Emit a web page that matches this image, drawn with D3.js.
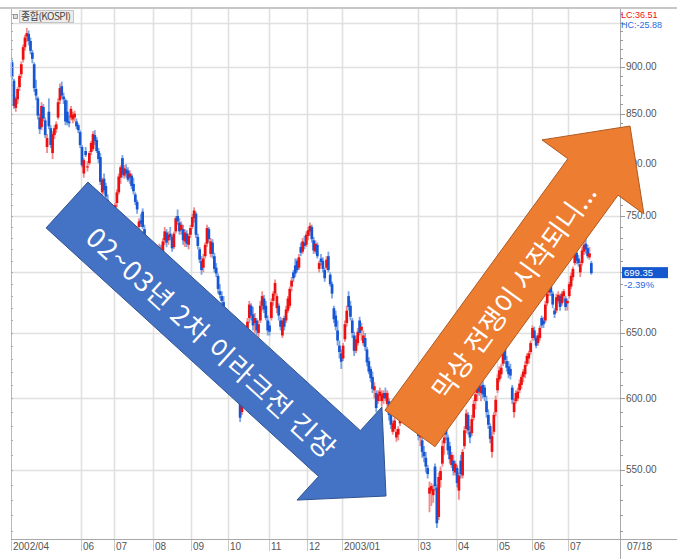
<!DOCTYPE html>
<html><head><meta charset="utf-8">
<script src="https://cdn.jsdelivr.net/npm/d3@7"></script>
<style>
body{margin:0;background:#fff;}
svg{display:block;font-family:"Liberation Sans",Arial,sans-serif;}
</style>
</head><body>
<svg id="c" width="677" height="559"></svg>
<script>
// ---- DATA (KOSPI daily, 2002/04/08 ~ 2003/07/18) ----
const monthLabels = ["2002/04","05","06","07","08","09","10","11","12","2003/01","02","03","04","05","06","07"];
const monthDays   = [17,21,18,21,21,20,22,21,19,21,20,21,22,19,20,13];
const lastDateLabel = "07/18";

const opens = [
905,885,856,865,878,892,908,922,934,937,929,916,903,876,866,846,836,
857,843,816,852,835,810,828,834,846,864,879,868,864,852,842,846,844,846,842,838,831,
816,790,812,796,800,811,814,828,823,812,806,772,785,778,765,750,740,732,
748,762,772,786,805,788,794,793,786,788,780,770,763,740,746,754,738,728,714,705,713,
716,706,702,714,720,714,728,735,728,734,731,722,736,750,744,737,738,727,734,724,733,
740,748,752,731,720,710,704,714,725,738,716,726,714,704,697,684,680,675,666,654,
648,640,645,626,612,616,600,590,614,632,650,662,672,665,658,660,650,660,672,678,672,660,
656,662,676,682,670,672,660,648,662,660,668,672,688,700,706,710,704,722,718,726,724,
732,736,740,728,718,724,703,712,710,702,704,714,698,690,670,664,652,640,634,
630,645,658,680,672,660,648,636,642,660,652,642,646,637,628,622,616,606,604,598,602,
598,600,604,596,598,588,576,578,572,574,582,592,598,600,592,588,596,596,590,590,
582,572,570,562,558,551,534,536,533,552,538,519,543,554,568,581,572,566,553,556,548,
551,536,556,546,566,578,588,576,575,586,598,604,610,604,610,608,598,588,580,562,576,590,
606,614,618,626,638,628,624,622,608,590,598,600,606,610,616,618,626,630,635,
646,652,646,642,646,662,660,660,674,683,690,682,668,668,676,680,674,680,678,674,
680,688,696,708,717,712,700,708,718,725,721,713,708];

const highs = [
908,887,868,878,892,906,925,936,944,941,933,919,905,886,868,850,862,
860,846,829,866,838,832,838,842,866,882,884,872,866,864,848,858,852,853,845,840,833,
818,805,816,802,812,822,832,833,826,815,810,786,790,781,770,756,748,748,
762,775,790,798,808,798,799,796,793,790,786,772,765,748,752,757,742,732,720,716,722,
720,712,716,725,724,730,740,738,736,740,733,736,750,756,748,745,742,738,737,734,742,
752,758,754,734,722,714,716,726,742,740,730,729,717,708,699,690,684,680,670,660,
655,652,648,634,620,622,602,612,632,645,662,676,674,671,666,662,660,676,684,681,676,664,
659,678,684,694,682,674,663,662,664,672,680,688,696,702,712,712,716,726,730,732,736,
740,744,742,731,728,726,710,716,713,704,714,718,700,692,672,668,660,644,637,
642,660,672,684,676,662,651,648,654,663,658,652,650,639,631,624,620,612,606,606,608,
606,606,608,606,600,590,584,586,578,580,594,600,604,604,596,598,602,598,596,592,
586,578,572,566,562,553,542,541,540,554,540,548,552,570,576,584,574,569,562,560,556,
553,548,560,564,580,592,590,580,588,599,606,612,616,612,616,610,602,592,582,576,590,602,
618,624,626,640,642,632,628,626,610,600,606,608,614,618,622,628,634,636,644,
656,655,648,650,656,664,663,676,684,694,692,684,670,682,684,682,684,686,680,678,
692,700,705,718,719,715,710,722,727,729,724,722,710];

const lows = [
886,855,852,860,874,888,905,918,928,924,914,904,873,864,844,829,833,
842,825,810,834,815,804,824,830,844,860,866,860,838,838,836,843,840,842,834,830,815,
796,786,806,792,798,808,812,818,810,800,779,768,770,764,748,733,722,728,
745,758,770,780,786,785,786,782,780,775,770,760,752,738,740,738,726,712,702,698,708,
704,695,700,710,708,712,724,722,724,728,718,720,734,742,733,733,724,722,722,720,730,
738,744,730,720,708,698,700,712,722,726,713,712,700,696,682,678,672,665,652,640,
632,636,625,610,600,602,583,588,612,628,645,658,660,652,650,648,646,658,668,666,660,648,
648,660,672,680,666,660,652,646,652,658,666,670,684,692,696,700,702,714,716,720,722,
728,732,726,716,716,712,700,706,700,692,702,700,688,678,658,652,640,630,622,
628,643,655,668,660,646,632,634,640,648,644,640,636,624,618,612,604,600,590,596,598,
594,596,598,594,584,578,574,576,569,570,580,588,592,590,582,586,590,584,586,578,
570,566,558,555,548,544,522,526,528,536,512,517,538,552,560,570,560,554,551,546,546,
538,530,544,544,564,575,574,568,573,584,592,598,602,598,600,598,586,578,568,558,574,587,
604,612,615,624,626,620,615,614,596,586,596,598,604,607,612,615,624,626,633,
644,644,638,640,644,654,654,658,672,680,680,670,662,666,674,668,672,675,668,668,
678,686,693,706,707,705,696,706,715,716,712,711,698];

const closes = [
889,858,866,876,890,903,922,933,938,929,918,909,877,869,848,834,858,
845,828,825,837,818,829,835,839,862,877,869,865,842,841,840,855,849,850,837,833,818,
798,803,808,797,810,820,829,822,812,804,782,784,774,768,752,738,728,745,
760,772,787,796,789,795,790,784,790,778,773,763,756,745,743,740,730,716,706,712,718,
708,700,713,722,712,727,736,726,733,731,721,734,748,745,736,742,728,735,725,732,739,
749,755,733,723,711,702,712,724,739,729,727,716,703,699,686,681,676,668,655,646,
636,648,628,614,617,605,586,609,630,642,659,673,664,656,662,652,657,672,680,669,662,652,
651,675,682,691,680,664,655,660,655,669,678,686,693,695,699,702,713,717,727,723,733,
737,741,729,719,725,714,708,709,703,695,711,702,690,682,661,655,644,635,627.55,
640,657,668,671,663,650,636,645,651,650,655,648,639,627,620,615,607,609,593,603,605,
603,604,600,604,588,581,582,584,576,578,591,596,600,594,586,595,598,588,592,582,
573,575,562,559,552,547,538,539,537,539,515,545,549,566,572,574,563,557,560,549,554,
541,546,547,562,577,589,577,572,585,596,603,608,605,609,603,601,590,581,571,573,588,599,
615,621,623,637,629,623,618,617,599,597,604,605,611,616,620,625,632,634,642,
654,646,640,648,654,656,657,673,682,691,683,673,665,679,681,671,682,684,671,676,
690,697,703,716,710,708,707,719,724,720,714,716.47,699.35];

const gridValues  = [550,600,650,700,750,800,850,900,950];
const labelValues = [550,600,650,700,750,800,850,900];
const infoLC = "LC:36.51", infoHC = "HC:-25.88";
const chartTitle = "종합(KOSPI)";
const blueText = "02~03년 2차 이라크전 긴장";
const orangeText = "막상 전쟁이 시작되니...";

// ---- LAYOUT ----
const svg = d3.select("#c");
const L = 11, R = 620, T = 9, B = 539;
const n = closes.length;
const x = d3.scaleLinear().domain([-0.6, 330.6]).range([L, R]);
const y = d3.scaleLog().domain([505.2, 964.9]).range([B, 10]);

const monthStart = [];
let acc = 0;
monthDays.forEach(d => { monthStart.push(acc); acc += d; });

svg.append("rect").attr("width",677).attr("height",559).attr("fill","#fff");
svg.append("line").attr("x1",0).attr("x2",677).attr("y1",8).attr("y2",8).attr("stroke","#b4b4b4").attr("stroke-width",1.5);

// horizontal grid
svg.append("g").selectAll("line").data(gridValues).join("line")
  .attr("x1",L).attr("x2",R).attr("y1",d=>Math.round(y(d))+0.5).attr("y2",d=>Math.round(y(d))+0.5)
  .attr("stroke","#e0e0e0").attr("stroke-width",1.6);

// vertical month grid + labels (skip labels that would collide)
const shown = [];
let prevEnd = -100;
monthLabels.forEach((lab,k) => {
  const gx = k===0 ? L : x(monthStart[k]-0.5);
  if (gx < prevEnd + 2) return;
  shown.push({gx, lab});
  prevEnd = gx + 2 + lab.length*5;
});
const vg = svg.append("g");
vg.selectAll("line.g").data(shown.filter(d=>d.gx>L+1)).join("line")
  .attr("x1",d=>Math.round(d.gx)+0.5).attr("x2",d=>Math.round(d.gx)+0.5).attr("y1",T).attr("y2",B)
  .attr("stroke","#e0e0e0").attr("stroke-width",1.6);
vg.selectAll("line.t").data(shown).join("line")
  .attr("x1",d=>Math.round(d.gx)+0.5).attr("x2",d=>Math.round(d.gx)+0.5).attr("y1",B).attr("y2",551)
  .attr("stroke","#c8c8c8").attr("stroke-width",1);
vg.selectAll("text").data(shown).join("text")
  .attr("x",d=>Math.round(d.gx)+2).attr("y",550).text(d=>d.lab)
  .attr("font-size",10).attr("fill","#555");

// candles
const cg = svg.append("g");
const idx = d3.range(n);
const up = i => closes[i] >= opens[i];
cg.selectAll("line").data(idx).join("line")
  .attr("x1",i=>x(i)).attr("x2",i=>x(i))
  .attr("y1",i=>y(Math.max(highs[i],opens[i],closes[i])))
  .attr("y2",i=>y(Math.min(lows[i],opens[i],closes[i])))
  .attr("stroke",i=>up(i)?"#f28a8a":"#7aa4e6").attr("stroke-width",1.8);
cg.selectAll("rect").data(idx).join("rect")
  .attr("x",i=>x(i)-1.35).attr("width",2.7)
  .attr("y",i=>y(Math.max(opens[i],closes[i])))
  .attr("height",i=>Math.max(1.2,Math.abs(y(opens[i])-y(closes[i]))))
  .attr("fill",i=>up(i)?"#ee1010":"#1656d4");

// frame
svg.append("line").attr("x1",L+0.5).attr("x2",L+0.5).attr("y1",T).attr("y2",B).attr("stroke","#b8b8b8");
svg.append("line").attr("x1",R+0.5).attr("x2",R+0.5).attr("y1",T).attr("y2",559).attr("stroke","#a8a8a8");
svg.append("line").attr("x1",L).attr("x2",677).attr("y1",B+0.5).attr("y2",B+0.5).attr("stroke","#a8a8a8");

// minor ticks
const minor = d3.range(510, 961, 10);
svg.append("g").selectAll("line").data(minor).join("line")
  .attr("x1",R).attr("x2",d=>R+(d%50===0?5:3)).attr("y1",d=>Math.round(y(d))+0.5).attr("y2",d=>Math.round(y(d))+0.5)
  .attr("stroke","#999");
svg.append("g").selectAll("line").data(minor).join("line")
  .attr("x1",L).attr("x2",L+2).attr("y1",d=>Math.round(y(d))+0.5).attr("y2",d=>Math.round(y(d))+0.5)
  .attr("stroke","#aaa");

// right axis labels (700 is covered by the last-price box)
const lastV = closes[n-1], prevV = closes[n-2];
svg.append("g").selectAll("text").data(labelValues.filter(v=>Math.abs(y(v)-y(lastV))>10)).join("text")
  .attr("x",626).attr("y",d=>y(d)+3.5).text(d=>d.toFixed(2))
  .attr("font-size",10).attr("fill","#555");
svg.append("text").attr("x",627).attr("y",550).text(lastDateLabel).attr("font-size",10).attr("fill","#555");

// title box
svg.append("rect").attr("x",13.5).attr("y",14.5).attr("width",4).attr("height",4).attr("fill","#ddd").attr("stroke","#999");
svg.append("rect").attr("x",19.5).attr("y",10.5).attr("width",54).attr("height",12).attr("fill","#ececec").attr("stroke","#c4c4c4");
svg.append("text").attr("x",21).attr("y",20).text(chartTitle).attr("font-size",10).attr("fill","#444")
  .attr("font-family","'Noto Sans CJK KR','Liberation Sans',sans-serif").attr("textLength",50);

// LC / HC info
svg.append("text").attr("x",621).attr("y",17.5).text(infoLC).attr("font-size",9).attr("fill","#f01010");
svg.append("text").attr("x",621).attr("y",28).text(infoHC).attr("font-size",9).attr("fill","#2a6ae0");

// arrows (annotation shapes)
function arrow(x0,y0,x1,y1,sw,hw,hl){
  const dx=x1-x0, dy=y1-y0, len=Math.hypot(dx,dy), ux=dx/len, uy=dy/len, nx=-uy, ny=ux, s=len-hl;
  const P=(t,o)=>[x0+ux*t+nx*o, y0+uy*t+ny*o];
  return [P(0,-sw/2),P(s,-sw/2),P(s,-hw/2),[x1,y1],P(s,hw/2),P(s,sw/2),P(0,sw/2)];
}
const line = d3.line();
svg.append("path").attr("d",line(arrow(67,205,386,496,62,126,63))+"Z").attr("fill","#4472c4").attr("stroke","#2f528f").attr("stroke-width",1);
svg.append("path").attr("d",line(arrow(410,428.5,630,126,62,126,63))+"Z").attr("fill","#ed7d31").attr("stroke","#ae5a21").attr("stroke-width",1);

function arrowText(x0,y0,x1,y1,t,off,txt,fs,ls){
  const dx=x1-x0, dy=y1-y0, len=Math.hypot(dx,dy), ux=dx/len, uy=dy/len;
  const cx=x0+ux*t-uy*off, cy=y0+uy*t+ux*off;
  const ang=Math.atan2(dy,dx)*180/Math.PI;
  svg.append("text").attr("transform",`translate(${cx},${cy}) rotate(${ang})`)
    .attr("text-anchor","middle").attr("dominant-baseline","central")
    .attr("font-family","'Noto Sans CJK KR',sans-serif").attr("font-size",fs)
    .attr("letter-spacing",ls).attr("fill","#fff").text(txt);
}
arrowText(67,205,386,496,200,3,blueText,27,1.2);
arrowText(410,428.5,630,126,172,2,orangeText,27,0);

// last price box
const ly = y(lastV);
svg.append("rect").attr("x",622).attr("y",ly-6).attr("width",46).attr("height",11).attr("fill","#1557cc");
svg.append("text").attr("x",624).attr("y",ly+3).text(lastV.toFixed(2)).attr("font-size",9.5).attr("fill","#fff");
svg.append("text").attr("x",624).attr("y",ly+15).text(((lastV/prevV-1)*100).toFixed(2)+"%").attr("font-size",9.5).attr("fill","#2a6ae0");
</script>
</body></html>
